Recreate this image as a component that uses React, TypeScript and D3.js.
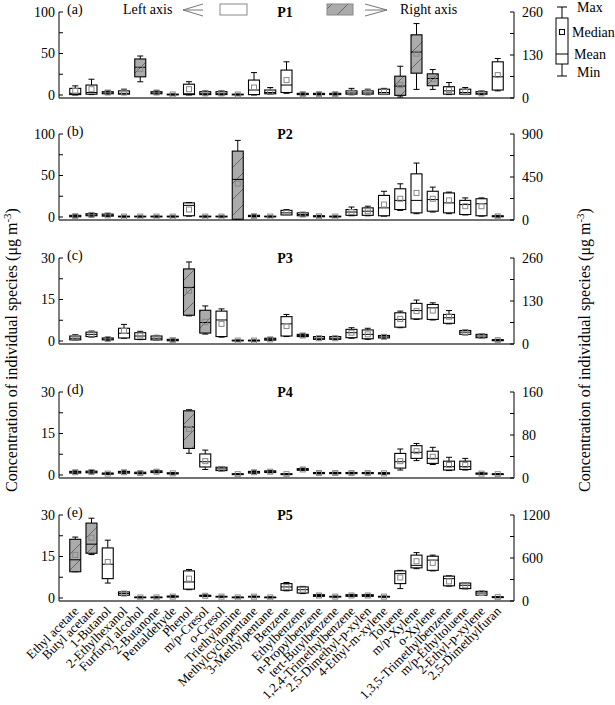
import React from 'react';
import * as d3 from 'd3';

const categories = [
  'Ethyl acetate', 'Butyl acetate', '1-Butanol', '2-Ethylhexanol', 'Furfuryl alcohol',
  '2-Butanone', 'Pentaldehyde', 'Phenol', 'm/p-Cresol', 'o-Cresol', 'Triethylamine',
  'Methylcyclopentane', '3-Methylpentane', 'Benzene', 'Ethylbenzene', 'n-Propylbenzene',
  'tert-Butylbenzene', '1,2,4-Trimethylbenzene', '2,5-Dimethyl-p-xylen', '4-Ethyl-m-xylene',
  'Toluene', 'm/p-Xylene', 'o-Xylene', '1,3,5-Trimethylbenzene', 'm/p-Ethyltoluene',
  '2-Ethyl-p-xylene', '2,5-Dimethylfuran',
];

// [min, boxLow, line, boxHigh, max, square]
type Stat = [number, number, number, number, number, number];

const p1: Stat[] = [
  [0, 0.5, 2, 8, 11, 5], [0.5, 1, 3, 12, 19, 7], [1, 1.5, 2.5, 4, 5, 3], [0.5, 1, 2, 5, 7, 3],
  [49, 64, 93, 118, 127, 88], [1, 1.5, 2.5, 4, 5, 3], [0, 0.2, 0.5, 1, 1.2, 0.6],
  [0, 0.5, 1.5, 13, 16, 7], [0, 0.5, 2, 4, 5, 2], [0, 0.5, 2, 4, 5, 2], [0, 0.2, 0.5, 1, 1.2, 0.6],
  [0, 0.5, 6, 18, 27, 9], [1, 1.5, 3, 6, 9, 4], [2, 3, 12, 30, 40, 18], [0, 0.5, 1, 2, 2.5, 1],
  [0, 0.5, 1, 2, 2.5, 1], [0, 0.5, 1, 2, 2.5, 1], [0.5, 1, 2.5, 5, 8, 3], [0.5, 1, 2.5, 5, 7, 3],
  [0.5, 1, 3, 7, 8, 4], [3, 8, 36, 66, 96, 39], [26, 75, 139, 191, 225, 134],
  [26, 37, 59, 73, 86, 57], [0.5, 1, 5, 10, 15, 6], [0.5, 1, 3, 7, 9, 4], [0.5, 1, 2, 4, 5, 2],
  [5, 6, 22, 40, 44, 24],
];
const p2: Stat[] = [
  [0, 0.3, 1, 2, 2.5, 1], [1, 1.5, 2.5, 4, 4.5, 2.5], [0.5, 1, 2, 3.5, 4, 2], [0, 0.2, 0.5, 1, 1.2, 0.5],
  [0, 0.2, 0.5, 1, 1.2, 0.5], [0, 0.2, 0.5, 1, 1.2, 0.5], [0, 0.2, 0.5, 1, 1.2, 0.5],
  [1, 1.5, 14, 17, 17.5, 9], [0, 0.2, 0.5, 1, 1.2, 0.5], [0, 0.2, 0.5, 1, 1.2, 0.5],
  [5, 8, 425, 721, 833, 381], [0, 0.5, 1, 2, 2.5, 1], [0, 0.2, 0.5, 1, 1.2, 0.5], [2, 2.5, 5, 8, 9, 5],
  [1, 1.5, 3, 5, 5.5, 3], [0, 0.3, 0.8, 1.5, 2, 0.8], [0, 0.2, 0.5, 1, 1.2, 0.5], [1.5, 2, 6, 9, 12, 6],
  [1.5, 2, 7, 11, 13, 7], [1, 1.5, 11, 26, 31, 15], [8, 9, 20, 34, 40, 22], [4, 5, 20, 52, 65, 29],
  [6, 7, 21, 31, 36, 22], [4, 5, 17, 29, 30, 20], [2.5, 3, 15, 20, 23, 13], [1, 1.5, 16, 22, 23, 13],
  [0, 0.3, 0.8, 1.5, 2, 0.8],
];
const p3: Stat[] = [
  [0.3, 0.4, 1, 1.8, 2.3, 1.2], [1.4, 1.6, 2.4, 3.2, 3.6, 2.4], [0.3, 0.4, 0.7, 1.1, 1.2, 0.7],
  [1, 1.1, 2.8, 4.6, 6, 3.6], [0.5, 0.6, 1.8, 3, 3.5, 2], [0.3, 0.4, 1, 1.8, 2, 1.2],
  [0, 0.1, 0.3, 0.6, 0.7, 0.3], [85, 87, 171, 227, 248, 161], [30, 33, 65, 102, 115, 67],
  [1.4, 1.6, 7.6, 10.8, 11.6, 6.2], [0, 0.05, 0.15, 0.3, 0.35, 0.15], [0, 0.05, 0.15, 0.3, 0.35, 0.15],
  [0.2, 0.3, 0.6, 1, 1.1, 0.6], [1.6, 1.8, 6.2, 8.8, 9.6, 5.4], [1.5, 1.6, 2, 2.4, 2.6, 2],
  [0.5, 0.6, 1, 1.6, 1.7, 1], [0.5, 0.6, 1, 1.6, 1.7, 1], [1, 1.2, 3, 4.2, 4.8, 3],
  [0.6, 0.8, 2.4, 4, 4.6, 2.4], [1, 1.1, 1.5, 2, 2.1, 1.5], [4.8, 5, 7.8, 10.2, 10.8, 8],
  [7.8, 8, 11, 13.6, 14.8, 10.8], [7.6, 7.8, 12, 13.2, 13.8, 11], [6.2, 6.4, 8.4, 9.6, 11, 8.8],
  [2.2, 2.4, 3.2, 3.8, 4, 3.2], [1, 1.2, 1.8, 2.4, 2.6, 1.8], [0.05, 0.1, 0.3, 0.5, 0.6, 0.3],
];
const p4: Stat[] = [
  [0.6, 0.7, 1, 1.3, 1.5, 1], [0.7, 0.8, 1.1, 1.4, 1.6, 1.1], [0.2, 0.3, 0.5, 0.7, 0.8, 0.5],
  [0.6, 0.7, 1, 1.3, 1.5, 1], [0.4, 0.5, 0.7, 1, 1.1, 0.7], [0.8, 0.9, 1.2, 1.5, 1.7, 1.2],
  [0.3, 0.4, 0.6, 0.8, 0.9, 0.6], [46, 55, 95, 125, 127, 91], [2, 2.9, 4.8, 7.6, 9, 5],
  [1.4, 1.6, 2.2, 2.8, 3, 2.2], [0.1, 0.15, 0.3, 0.45, 0.5, 0.3], [0.6, 0.7, 1, 1.3, 1.5, 1],
  [0.8, 0.9, 1.2, 1.5, 1.6, 1.2], [0.1, 0.15, 0.3, 0.45, 0.5, 0.3], [1.6, 1.7, 2, 2.3, 2.5, 2],
  [0.4, 0.5, 0.7, 0.9, 1, 0.7], [0.4, 0.5, 0.7, 0.9, 1, 0.7], [0.4, 0.5, 0.7, 0.9, 1, 0.7],
  [0.4, 0.5, 0.7, 0.9, 1, 0.7], [0.3, 0.4, 0.6, 0.8, 0.9, 0.6], [1.8, 2.5, 4.8, 7.8, 9.4, 5],
  [5.2, 6, 8.2, 10.6, 11.4, 8.6], [3.8, 4.2, 6, 8.6, 10, 6.6], [1.6, 1.8, 3, 5, 6.4, 3.6],
  [1.8, 2, 3, 5, 6, 3.6], [0.2, 0.3, 0.5, 0.7, 0.8, 0.5], [0.1, 0.15, 0.3, 0.45, 0.5, 0.3],
];
const p5: Stat[] = [
  [408, 408, 575, 861, 892, 643], [648, 666, 793, 1087, 1155, 883], [5.4, 7, 12.2, 18.1, 20.9, 13],
  [0.9, 1, 1.6, 2.2, 2.3, 1.6], [0.05, 0.1, 0.2, 0.35, 0.4, 0.2], [0.05, 0.1, 0.2, 0.35, 0.4, 0.2],
  [0.3, 0.35, 0.5, 0.7, 0.8, 0.5], [3, 3.2, 5.8, 9.8, 10.3, 7], [0.5, 0.6, 0.8, 1, 1.1, 0.8],
  [0.3, 0.35, 0.5, 0.6, 0.7, 0.5], [0.05, 0.1, 0.2, 0.35, 0.4, 0.2], [0.3, 0.35, 0.5, 0.6, 0.7, 0.5],
  [0.05, 0.1, 0.2, 0.35, 0.4, 0.2], [2.6, 2.8, 4, 5.2, 5.6, 4], [1.6, 1.8, 3, 4, 4.2, 3],
  [0.5, 0.6, 0.9, 1.2, 1.3, 0.9], [0.3, 0.35, 0.5, 0.6, 0.7, 0.5], [0.5, 0.6, 0.9, 1.2, 1.3, 0.9],
  [0.5, 0.6, 0.9, 1.2, 1.3, 0.9], [0.3, 0.35, 0.5, 0.6, 0.7, 0.5], [3.4, 5.2, 8.8, 9.8, 10, 7.4],
  [10.6, 10.9, 11.8, 15.5, 16.4, 13.3], [9.8, 10, 13.7, 15.1, 15.5, 12.7], [4.3, 4.4, 7, 7.9, 8, 6],
  [3.3, 3.4, 4.6, 5.4, 5.5, 4.6], [0.9, 1, 1.8, 2.4, 2.5, 1.8], [0.1, 0.15, 0.3, 0.45, 0.5, 0.3],
];

// indices of species plotted against the right axis (hatched boxes)
const p1Right = [4, 20, 21, 22];
const p2Right = [10];
const p3Right = [7, 8];
const p4Right = [7];
const p5Right = [0, 1];

const leftMaxes = [100, 100, 30, 30, 30];
const rightMaxes = [260, 900, 260, 160, 1200];
const panelTags = ['(a)', '(b)', '(c)', '(d)', '(e)'];
const panelNames = ['P1', 'P2', 'P3', 'P4', 'P5'];

const panelData = [p1, p2, p3, p4, p5];
const panelRight = [p1Right, p2Right, p3Right, p4Right, p5Right];
const panelTops = [12, 134, 258, 392, 515];

const X0 = 59;
const X1 = 514;
const FONT = '"Liberation Serif", "Times New Roman", serif';

const x = d3.scalePoint<string>().domain(categories).range([X0, X1]).padding(1);

const Panel: React.FC<{ i: number }> = ({ i }) => {
  const top = panelTops[i];
  const bottom = top + 86;
  const yL = d3.scaleLinear().domain([0, leftMaxes[i]]).range([top + 83, top]);
  const yR = d3.scaleLinear().domain([0, rightMaxes[i]]).range([bottom, top]);
  const lTicks = d3.range(0, 5).map(k => (leftMaxes[i] / 4) * k);
  const rTicks = d3.range(0, 5).map(k => (rightMaxes[i] / 4) * k);
  const right = panelRight[i];

  return (
    <g>
      {/* frame */}
      <line x1={X0} x2={X0} y1={top} y2={bottom} stroke="#000" strokeWidth={1} />
      <line x1={X1} x2={X1} y1={top} y2={bottom} stroke="#000" strokeWidth={1} />
      <line x1={X0} x2={X1} y1={bottom} y2={bottom} stroke="#444" strokeWidth={1.6} />
      {lTicks.map((t, k) => (
        <g key={'l' + k}>
          <line x1={X0} x2={X0 + 4} y1={yL(t)} y2={yL(t)} stroke="#000" />
          {k % 2 === 0 && (
            <text x={X0 - 4} y={yL(t)} dy="0.35em" textAnchor="end" fontSize={14}>{t}</text>
          )}
        </g>
      ))}
      {rTicks.map((t, k) => (
        <g key={'r' + k}>
          <line x1={X1} x2={X1 - 4} y1={yR(t)} y2={yR(t)} stroke="#000" />
          {k % 2 === 0 && (
            <text x={X1 + 8} y={yR(t)} dy="0.35em" fontSize={14}>{t}</text>
          )}
        </g>
      ))}
      <text x={X0 + 8} y={top + 2} fontSize={14}>{panelTags[i]}</text>
      {i > 0 && (
        <text x={285} y={top + 5} textAnchor="middle" fontSize={14} fontWeight="bold">{panelNames[i]}</text>
      )}

      {panelData[i].map((s, j) => {
        const isR = right.includes(j);
        const y = isR ? yR : yL;
        const cx = x(categories[j])!;
        const [mn, lo, md, hi, mx, mean] = s;
        const hw = 5.5;
        return (
          <g key={j}>
            <line x1={cx} x2={cx} y1={y(mx)} y2={y(hi)} stroke="#000" />
            <line x1={cx} x2={cx} y1={y(lo)} y2={y(mn)} stroke="#000" />
            <line x1={cx - 3} x2={cx + 3} y1={y(mx)} y2={y(mx)} stroke="#000" />
            <line x1={cx - 3} x2={cx + 3} y1={y(mn)} y2={y(mn)} stroke="#000" />
            <rect x={cx - hw} width={hw * 2} y={y(hi)} height={Math.max(0.5, y(lo) - y(hi))}
              fill={isR ? 'url(#hatch)' : '#fff'} stroke="#000" strokeWidth={1.1} />
            <line x1={cx - hw} x2={cx + hw} y1={y(md)} y2={y(md)} stroke="#000" />
            <rect x={cx - 2.5} y={y(mean) - 2.5} width={5} height={5} fill="none" stroke="#888" strokeWidth={1} />
          </g>
        );
      })}
    </g>
  );
};

const TopLegend: React.FC = () => (
  <g fontSize={14}>
    <text x={123} y={14}>Left axis</text>
    <path d="M203,4 L183,10 L203,16 M183,10 L203,10" fill="none" stroke="#777" />
    <rect x={220} y={4} width={27} height={11} fill="#fff" stroke="#888" />
    <text x={285} y={17} textAnchor="middle" fontWeight="bold">P1</text>
    <rect x={327} y={4} width={26} height={11} fill="url(#hatch)" stroke="#888" />
    <path d="M365,4 L387,10 L365,16 M365,10 L387,10" fill="none" stroke="#777" />
    <text x={400} y={14}>Right axis</text>

    {/* box key */}
    <line x1={562} x2={562} y1={7} y2={18} stroke="#000" />
    <line x1={562} x2={562} y1={64} y2={76} stroke="#000" />
    <line x1={557} x2={567} y1={7} y2={7} stroke="#000" />
    <line x1={557} x2={567} y1={76} y2={76} stroke="#000" />
    <rect x={556} y={18} width={12} height={46} fill="#fff" stroke="#000" />
    <line x1={556} x2={568} y1={54} y2={54} stroke="#000" />
    <rect x={559.5} y={29.5} width={5} height={5} fill="none" stroke="#000" />
    <text x={577} y={12}>Max</text>
    <text x={572} y={37}>Median</text>
    <text x={574} y={59}>Mean</text>
    <text x={577} y={77}>Min</text>
  </g>
);

const Title: React.FC<{ tx: number }> = ({ tx }) => (
  <text transform={`translate(${tx},350) rotate(-90)`} textAnchor="middle" fontSize={16}>
    Concentration of individual species (μg m<tspan dy={-6} fontSize={11}>-3</tspan><tspan dy={6}>)</tspan>
  </text>
);

export default function App() {
  return (
    <svg width={615} height={705} style={{ position: 'absolute', left: 0, top: 0, background: '#fff' }}
      fontFamily={FONT}>
      <defs>
        <pattern id="hatch" patternUnits="userSpaceOnUse" width={16} height={16}>
          <rect width={16} height={16} fill="#ababab" />
          <path d="M0,16 L16,0 M-4,4 L4,-4 M12,20 L20,12" stroke="#555" strokeWidth={0.8} />
        </pattern>
      </defs>
      <TopLegend />
      {panelTops.map((_, i) => <Panel key={i} i={i} />)}
      {categories.map(c => (
        <text key={c} transform={`translate(${x(c)! + 4},${612}) rotate(-45)`} textAnchor="end" fontSize={13}>{c}</text>
      ))}
      <Title tx={17} />
      <Title tx={590} />
    </svg>
  );
}
